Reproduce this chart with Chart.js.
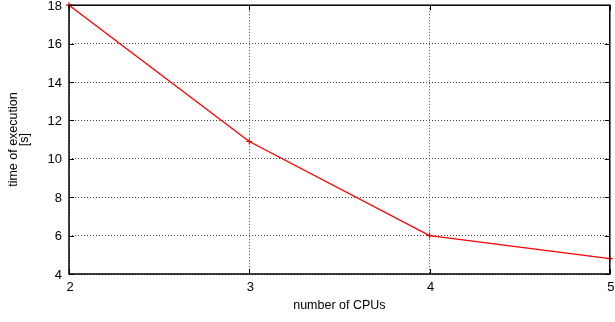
<!DOCTYPE html>
<html>
<head>
<meta charset="utf-8">
<script src="https://cdn.jsdelivr.net/npm/chart.js@4/dist/chart.umd.min.js"></script>
<style>
  html, body { margin: 0; padding: 0; background: #fff; }
  #wrap { width: 615px; height: 322px; }
</style>
</head>
<body>
<div id="wrap"><canvas id="chart" width="615" height="322"></canvas></div>
<script>
const cpus = [2, 3, 4, 5];
const execTime = [18.0, 10.9, 6.0, 4.8];
const xTicks = [2, 3, 4, 5];
const yTicks = [4, 6, 8, 10, 12, 14, 16, 18];

const fontFamily = "'Liberation Sans', Arial, sans-serif";
const tickSize = 13;
const titleFont = { family: fontFamily, size: 12.5, lineHeight: 0.85 };

// gnuplot style frame, inward tick marks and tick labels
const framePlugin = {
    id: "frame",
    afterDraw(chart) {
        const { ctx, chartArea: a, scales } = chart;
        ctx.save();
        ctx.strokeStyle = "#000";
        ctx.lineWidth = 1;
        ctx.beginPath();
        yTicks.forEach(v => {
            const y = Math.round(scales.y.getPixelForValue(v)) + 0.5;
            ctx.moveTo(a.left, y); ctx.lineTo(a.left + 5, y);
            ctx.moveTo(a.right, y); ctx.lineTo(a.right - 5, y);
        });
        xTicks.forEach(v => {
            const x = Math.round(scales.x.getPixelForValue(v)) + 0.5;
            ctx.moveTo(x, a.bottom); ctx.lineTo(x, a.bottom - 5);
            ctx.moveTo(x, a.top); ctx.lineTo(x, a.top + 5);
        });
        ctx.stroke();
        ctx.lineWidth = 1.5;
        ctx.strokeRect(a.left, a.top, a.right - a.left, a.bottom - a.top);

        ctx.fillStyle = "#000";
        ctx.font = tickSize + "px " + fontFamily;
        ctx.textBaseline = "alphabetic";
        ctx.textAlign = "right";
        yTicks.forEach(v => {
            ctx.fillText(String(v), a.left - 7, scales.y.getPixelForValue(v) + 4.5);
        });
        ctx.textAlign = "center";
        xTicks.forEach(v => {
            ctx.fillText(String(v), scales.x.getPixelForValue(v) + 1, a.bottom + 17);
        });
        ctx.restore();
    }
};

new Chart(document.getElementById("chart"), {
    type: "line",
    data: {
        datasets: [{
            data: cpus.map((c, i) => ({ x: c, y: execTime[i] })),
            borderColor: "#ff0000",
            backgroundColor: "#ff0000",
            borderWidth: 1.4,
            pointStyle: "cross",
            pointRadius: 3,
            pointBorderWidth: 1.2,
            tension: 0,
            clip: false,
        }],
    },
    options: {
        responsive: false,
        animation: false,
        layout: { padding: { top: 4, right: 3, left: 0, bottom: 0 } },
        plugins: { legend: { display: false }, tooltip: { enabled: false } },
        scales: {
            x: {
                type: "linear",
                min: 2,
                max: 5,
                afterBuildTicks: (s) => { s.ticks = xTicks.map(v => ({ value: v })); },
                afterFit: (s) => { s.height = 48; },
                ticks: { display: false },
                grid: { color: "#444", tickLength: 0, drawTicks: false },
                border: { display: false, dash: [1, 2] },
                title: { display: true, text: "number of CPUs", color: "#000", font: { family: fontFamily, size: 12.5 }, padding: { top: 0, bottom: 9 } },
            },
            y: {
                min: 4,
                max: 18,
                afterBuildTicks: (s) => { s.ticks = yTicks.map(v => ({ value: v })); },
                afterFit: (s) => { s.width = 69; },
                ticks: { display: false },
                grid: { color: "#444", tickLength: 0, drawTicks: false },
                border: { display: false, dash: [1, 2] },
                title: { display: true, text: ["time of execution", "[s]"], color: "#000", font: titleFont, padding: { top: 8.5, bottom: 0 } },
            },
        },
    },
    plugins: [framePlugin],
});
</script>
</body>
</html>
